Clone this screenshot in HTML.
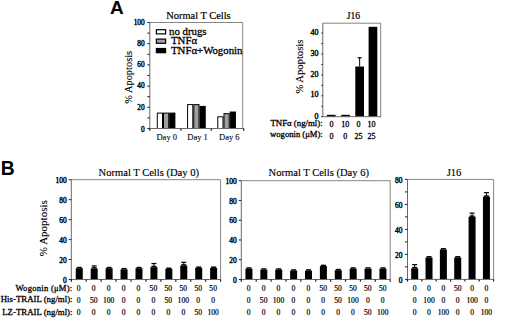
<!DOCTYPE html>
<html><head><meta charset="utf-8"><style>
html,body{margin:0;padding:0;background:#fff;width:520px;height:319px;overflow:hidden}
svg{display:block}
</style></head><body>
<svg width="520" height="319" viewBox="0 0 520 319">
<rect width="520" height="319" fill="#fff"/>
<g font-family='"Liberation Serif", serif'>
<text x="110.1" y="14.3" font-size="19" font-weight="bold" font-family='"Liberation Sans", sans-serif'>A</text>
<text x="0.7" y="174.6" font-size="19.3" font-weight="bold" font-family='"Liberation Sans", sans-serif'>B</text>
<text x="198.50" y="18.80" font-size="10.4" text-anchor="middle" stroke="#000" stroke-width="0.2">Normal T Cells</text>
<rect x="157.30" y="113.10" width="5.20" height="15.40" fill="#fff" stroke="#000" stroke-width="1"/>
<rect x="163.50" y="113.10" width="5.20" height="15.40" fill="#a0a0a0" stroke="#000" stroke-width="1"/>
<rect x="169.70" y="113.10" width="5.20" height="15.40" fill="#000" stroke="#000" stroke-width="1"/>
<rect x="187.60" y="104.62" width="5.20" height="23.88" fill="#fff" stroke="#000" stroke-width="1"/>
<rect x="193.80" y="104.62" width="5.20" height="23.88" fill="#a0a0a0" stroke="#000" stroke-width="1"/>
<rect x="200.00" y="106.42" width="5.20" height="22.08" fill="#000" stroke="#000" stroke-width="1"/>
<rect x="217.80" y="116.81" width="5.20" height="11.69" fill="#fff" stroke="#000" stroke-width="1"/>
<rect x="224.00" y="113.63" width="5.20" height="14.87" fill="#a0a0a0" stroke="#000" stroke-width="1"/>
<rect x="230.20" y="112.04" width="5.20" height="16.46" fill="#000" stroke="#000" stroke-width="1"/>
<line x1="149.80" y1="22.50" x2="149.80" y2="128.50" stroke="#6a6a6a" stroke-width="1"/>
<line x1="149.80" y1="22.50" x2="242.70" y2="22.50" stroke="#858585" stroke-width="1"/>
<line x1="242.70" y1="22.50" x2="242.70" y2="128.50" stroke="#858585" stroke-width="1"/>
<line x1="149.30" y1="128.50" x2="244.10" y2="128.50" stroke="#6a6a6a" stroke-width="1"/>
<line x1="149.80" y1="128.50" x2="149.80" y2="130.70" stroke="#222" stroke-width="1.3"/>
<line x1="243.60" y1="128.50" x2="243.60" y2="130.70" stroke="#222" stroke-width="1.2"/>
<line x1="147.30" y1="128.50" x2="149.80" y2="128.50" stroke="#222" stroke-width="1"/>
<text x="144.60" y="132.00" font-size="7.3" text-anchor="end" stroke="#000" stroke-width="0.4">0</text>
<line x1="147.30" y1="107.30" x2="149.80" y2="107.30" stroke="#222" stroke-width="1"/>
<text x="144.60" y="109.50" font-size="7.3" text-anchor="end" stroke="#000" stroke-width="0.4">20</text>
<line x1="147.30" y1="86.10" x2="149.80" y2="86.10" stroke="#222" stroke-width="1"/>
<text x="144.60" y="88.30" font-size="7.3" text-anchor="end" stroke="#000" stroke-width="0.4">40</text>
<line x1="147.30" y1="64.90" x2="149.80" y2="64.90" stroke="#222" stroke-width="1"/>
<text x="144.60" y="67.10" font-size="7.3" text-anchor="end" stroke="#000" stroke-width="0.4">60</text>
<line x1="147.30" y1="43.70" x2="149.80" y2="43.70" stroke="#222" stroke-width="1"/>
<text x="144.60" y="45.90" font-size="7.3" text-anchor="end" stroke="#000" stroke-width="0.4">80</text>
<line x1="147.30" y1="22.50" x2="149.80" y2="22.50" stroke="#222" stroke-width="1"/>
<text x="144.60" y="24.70" font-size="7.3" text-anchor="end" stroke="#000" stroke-width="0.4">100</text>
<line x1="147.30" y1="117.90" x2="149.80" y2="117.90" stroke="#222" stroke-width="1"/>
<line x1="147.30" y1="96.70" x2="149.80" y2="96.70" stroke="#222" stroke-width="1"/>
<line x1="147.30" y1="75.50" x2="149.80" y2="75.50" stroke="#222" stroke-width="1"/>
<line x1="147.30" y1="54.30" x2="149.80" y2="54.30" stroke="#222" stroke-width="1"/>
<line x1="147.30" y1="33.10" x2="149.80" y2="33.10" stroke="#222" stroke-width="1"/>
<line x1="180.90" y1="128.50" x2="180.90" y2="130.70" stroke="#222" stroke-width="1.2"/>
<line x1="211.30" y1="128.50" x2="211.30" y2="130.70" stroke="#222" stroke-width="1.2"/>
<text x="166.75" y="140.30" font-size="8.5" text-anchor="middle" stroke="#000" stroke-width="0.1">Day 0</text>
<text x="197.60" y="140.30" font-size="8.5" text-anchor="middle" stroke="#000" stroke-width="0.1">Day 1</text>
<text x="229.30" y="140.30" font-size="8.5" text-anchor="middle" stroke="#000" stroke-width="0.1">Day 6</text>
<text transform="translate(131.50,77.30) rotate(-90)" font-size="10.4" text-anchor="middle" stroke="#000" stroke-width="0.12">% Apoptosis</text>
<rect x="156.40" y="29.70" width="9.20" height="4.20" fill="#fff" stroke="#000" stroke-width="1.2"/>
<text x="169.00" y="34.50" font-size="10.8" text-anchor="start" stroke="#000" stroke-width="0.3">no drugs</text>
<rect x="156.40" y="39.10" width="9.20" height="4.20" fill="#a0a0a0" stroke="#000" stroke-width="1.2"/>
<text x="171.00" y="44.20" font-size="10.8" text-anchor="start" stroke="#000" stroke-width="0.3">TNFα</text>
<rect x="156.40" y="48.50" width="9.20" height="4.20" fill="#000" stroke="#000" stroke-width="1.2"/>
<text x="171.00" y="53.90" font-size="10.8" text-anchor="start" stroke="#000" stroke-width="0.3">TNFα+Wogonin</text>
<text x="353.50" y="18.80" font-size="9.6" text-anchor="middle" stroke="#000" stroke-width="0.2">J16</text>
<rect x="326.90" y="114.82" width="8.70" height="1.88" fill="#000"/>
<rect x="341.20" y="114.82" width="8.70" height="1.88" fill="#000"/>
<rect x="355.30" y="66.54" width="8.70" height="50.16" fill="#000"/>
<line x1="359.65" y1="57.76" x2="359.65" y2="66.54" stroke="#000" stroke-width="1"/>
<line x1="357.65" y1="57.76" x2="361.65" y2="57.76" stroke="#000" stroke-width="1.2"/>
<rect x="368.60" y="26.83" width="8.70" height="89.87" fill="#000"/>
<line x1="322.80" y1="23.20" x2="322.80" y2="116.70" stroke="#6a6a6a" stroke-width="1"/>
<line x1="322.80" y1="23.20" x2="380.70" y2="23.20" stroke="#858585" stroke-width="1"/>
<line x1="380.70" y1="23.20" x2="380.70" y2="116.70" stroke="#858585" stroke-width="1"/>
<line x1="322.30" y1="116.70" x2="381.20" y2="116.70" stroke="#6a6a6a" stroke-width="1"/>
<line x1="321.30" y1="116.70" x2="322.80" y2="116.70" stroke="#222" stroke-width="1"/>
<text x="318.50" y="118.90" font-size="8" text-anchor="end" stroke="#000" stroke-width="0.4">0</text>
<line x1="321.30" y1="95.80" x2="322.80" y2="95.80" stroke="#222" stroke-width="1"/>
<text x="318.50" y="97.40" font-size="8" text-anchor="end" stroke="#000" stroke-width="0.4">10</text>
<line x1="321.30" y1="74.90" x2="322.80" y2="74.90" stroke="#222" stroke-width="1"/>
<text x="318.50" y="76.50" font-size="8" text-anchor="end" stroke="#000" stroke-width="0.4">20</text>
<line x1="321.30" y1="54.00" x2="322.80" y2="54.00" stroke="#222" stroke-width="1"/>
<text x="318.50" y="55.60" font-size="8" text-anchor="end" stroke="#000" stroke-width="0.4">30</text>
<line x1="321.30" y1="33.10" x2="322.80" y2="33.10" stroke="#222" stroke-width="1"/>
<text x="318.50" y="34.70" font-size="8" text-anchor="end" stroke="#000" stroke-width="0.4">40</text>
<line x1="321.30" y1="106.25" x2="322.80" y2="106.25" stroke="#222" stroke-width="1"/>
<line x1="321.30" y1="85.35" x2="322.80" y2="85.35" stroke="#222" stroke-width="1"/>
<line x1="321.30" y1="64.45" x2="322.80" y2="64.45" stroke="#222" stroke-width="1"/>
<line x1="321.30" y1="43.55" x2="322.80" y2="43.55" stroke="#222" stroke-width="1"/>
<text x="322.70" y="125.80" font-size="8.8" text-anchor="end" stroke="#000" stroke-width="0.3">TNFα (ng/ml):</text>
<text x="322.70" y="136.60" font-size="8.6" text-anchor="end" stroke="#000" stroke-width="0.3">wogonin (μM):</text>
<text x="331.50" y="127.30" font-size="8" text-anchor="middle" stroke="#000" stroke-width="0.3">0</text>
<text x="331.50" y="139.00" font-size="8" text-anchor="middle" stroke="#000" stroke-width="0.3">0</text>
<text x="345.30" y="127.30" font-size="8" text-anchor="middle" stroke="#000" stroke-width="0.3">10</text>
<text x="345.30" y="139.00" font-size="8" text-anchor="middle" stroke="#000" stroke-width="0.3">0</text>
<text x="358.50" y="127.30" font-size="8" text-anchor="middle" stroke="#000" stroke-width="0.3">0</text>
<text x="358.50" y="139.00" font-size="8" text-anchor="middle" stroke="#000" stroke-width="0.3">25</text>
<text x="371.50" y="127.30" font-size="8" text-anchor="middle" stroke="#000" stroke-width="0.3">10</text>
<text x="371.50" y="139.00" font-size="8" text-anchor="middle" stroke="#000" stroke-width="0.3">25</text>
<text x="148.80" y="176.00" font-size="10.55" text-anchor="middle" stroke="#000" stroke-width="0.15">Normal T Cells (Day 0)</text>
<rect x="75.77" y="268.22" width="7.00" height="11.28" fill="#000"/>
<rect x="76.77" y="266.82" width="5.00" height="1.50" fill="#000"/>
<rect x="90.69" y="268.52" width="7.00" height="10.98" fill="#000"/>
<rect x="91.69" y="267.12" width="5.00" height="1.50" fill="#000"/>
<line x1="94.19" y1="265.93" x2="94.19" y2="267.72" stroke="#000" stroke-width="1"/>
<line x1="91.69" y1="265.93" x2="96.69" y2="265.93" stroke="#000" stroke-width="1.2"/>
<rect x="105.62" y="268.22" width="7.00" height="11.28" fill="#000"/>
<rect x="106.62" y="266.82" width="5.00" height="1.50" fill="#000"/>
<rect x="120.56" y="269.32" width="7.00" height="10.18" fill="#000"/>
<rect x="121.56" y="267.92" width="5.00" height="1.50" fill="#000"/>
<rect x="135.49" y="268.22" width="7.00" height="11.28" fill="#000"/>
<rect x="136.49" y="266.82" width="5.00" height="1.50" fill="#000"/>
<rect x="150.42" y="267.13" width="7.00" height="12.37" fill="#000"/>
<rect x="151.42" y="265.73" width="5.00" height="1.50" fill="#000"/>
<line x1="153.92" y1="263.53" x2="153.92" y2="266.33" stroke="#000" stroke-width="1"/>
<line x1="151.42" y1="263.53" x2="156.42" y2="263.53" stroke="#000" stroke-width="1.2"/>
<rect x="165.35" y="268.92" width="7.00" height="10.58" fill="#000"/>
<rect x="166.35" y="267.52" width="5.00" height="1.50" fill="#000"/>
<rect x="180.28" y="265.53" width="7.00" height="13.97" fill="#000"/>
<rect x="181.28" y="264.13" width="5.00" height="1.50" fill="#000"/>
<line x1="183.78" y1="262.33" x2="183.78" y2="264.73" stroke="#000" stroke-width="1"/>
<line x1="181.28" y1="262.33" x2="186.28" y2="262.33" stroke="#000" stroke-width="1.2"/>
<rect x="195.21" y="267.82" width="7.00" height="11.68" fill="#000"/>
<rect x="196.21" y="266.42" width="5.00" height="1.50" fill="#000"/>
<rect x="210.13" y="267.82" width="7.00" height="11.68" fill="#000"/>
<rect x="211.13" y="266.42" width="5.00" height="1.50" fill="#000"/>
<line x1="71.30" y1="179.70" x2="71.30" y2="279.50" stroke="#6a6a6a" stroke-width="1"/>
<line x1="71.30" y1="179.70" x2="220.60" y2="179.70" stroke="#858585" stroke-width="1"/>
<line x1="220.60" y1="179.70" x2="220.60" y2="279.50" stroke="#858585" stroke-width="1"/>
<line x1="70.80" y1="279.50" x2="221.10" y2="279.50" stroke="#6a6a6a" stroke-width="1"/>
<line x1="71.30" y1="279.50" x2="71.30" y2="281.70" stroke="#222" stroke-width="1.3"/>
<line x1="68.80" y1="279.50" x2="71.30" y2="279.50" stroke="#222" stroke-width="1"/>
<text x="66.80" y="283.20" font-size="7.5" text-anchor="end" stroke="#000" stroke-width="0.4">0</text>
<line x1="68.80" y1="259.54" x2="71.30" y2="259.54" stroke="#222" stroke-width="1"/>
<text x="66.80" y="262.64" font-size="7.5" text-anchor="end" stroke="#000" stroke-width="0.4">20</text>
<line x1="68.80" y1="239.58" x2="71.30" y2="239.58" stroke="#222" stroke-width="1"/>
<text x="66.80" y="242.68" font-size="7.5" text-anchor="end" stroke="#000" stroke-width="0.4">40</text>
<line x1="68.80" y1="219.62" x2="71.30" y2="219.62" stroke="#222" stroke-width="1"/>
<text x="66.80" y="222.72" font-size="7.5" text-anchor="end" stroke="#000" stroke-width="0.4">60</text>
<line x1="68.80" y1="199.66" x2="71.30" y2="199.66" stroke="#222" stroke-width="1"/>
<text x="66.80" y="202.76" font-size="7.5" text-anchor="end" stroke="#000" stroke-width="0.4">80</text>
<line x1="68.80" y1="179.70" x2="71.30" y2="179.70" stroke="#222" stroke-width="1"/>
<text x="66.80" y="182.80" font-size="7.5" text-anchor="end" stroke="#000" stroke-width="0.4">100</text>
<line x1="86.23" y1="279.50" x2="86.23" y2="281.70" stroke="#222" stroke-width="1.2"/>
<line x1="101.16" y1="279.50" x2="101.16" y2="281.70" stroke="#222" stroke-width="1.2"/>
<line x1="116.09" y1="279.50" x2="116.09" y2="281.70" stroke="#222" stroke-width="1.2"/>
<line x1="131.02" y1="279.50" x2="131.02" y2="281.70" stroke="#222" stroke-width="1.2"/>
<line x1="145.95" y1="279.50" x2="145.95" y2="281.70" stroke="#222" stroke-width="1.2"/>
<line x1="160.88" y1="279.50" x2="160.88" y2="281.70" stroke="#222" stroke-width="1.2"/>
<line x1="175.81" y1="279.50" x2="175.81" y2="281.70" stroke="#222" stroke-width="1.2"/>
<line x1="190.74" y1="279.50" x2="190.74" y2="281.70" stroke="#222" stroke-width="1.2"/>
<line x1="205.67" y1="279.50" x2="205.67" y2="281.70" stroke="#222" stroke-width="1.2"/>
<line x1="220.60" y1="279.50" x2="220.60" y2="281.70" stroke="#222" stroke-width="1.2"/>
<text x="78.77" y="290.50" font-size="7.6" text-anchor="middle" stroke="#000" stroke-width="0.2">0</text>
<text x="93.69" y="290.50" font-size="7.6" text-anchor="middle" stroke="#000" stroke-width="0.2">0</text>
<text x="108.62" y="290.50" font-size="7.6" text-anchor="middle" stroke="#000" stroke-width="0.2">0</text>
<text x="123.56" y="290.50" font-size="7.6" text-anchor="middle" stroke="#000" stroke-width="0.2">0</text>
<text x="138.49" y="290.50" font-size="7.6" text-anchor="middle" stroke="#000" stroke-width="0.2">0</text>
<text x="153.42" y="290.50" font-size="7.6" text-anchor="middle" stroke="#000" stroke-width="0.2">50</text>
<text x="168.35" y="290.50" font-size="7.6" text-anchor="middle" stroke="#000" stroke-width="0.2">50</text>
<text x="183.28" y="290.50" font-size="7.6" text-anchor="middle" stroke="#000" stroke-width="0.2">50</text>
<text x="198.21" y="290.50" font-size="7.6" text-anchor="middle" stroke="#000" stroke-width="0.2">50</text>
<text x="213.13" y="290.50" font-size="7.6" text-anchor="middle" stroke="#000" stroke-width="0.2">50</text>
<text x="78.77" y="302.70" font-size="7.6" text-anchor="middle" stroke="#000" stroke-width="0.2">0</text>
<text x="93.69" y="302.70" font-size="7.6" text-anchor="middle" stroke="#000" stroke-width="0.2">50</text>
<text x="108.62" y="302.70" font-size="7.6" text-anchor="middle" stroke="#000" stroke-width="0.2">100</text>
<text x="123.56" y="302.70" font-size="7.6" text-anchor="middle" stroke="#000" stroke-width="0.2">0</text>
<text x="138.49" y="302.70" font-size="7.6" text-anchor="middle" stroke="#000" stroke-width="0.2">0</text>
<text x="153.42" y="302.70" font-size="7.6" text-anchor="middle" stroke="#000" stroke-width="0.2">0</text>
<text x="168.35" y="302.70" font-size="7.6" text-anchor="middle" stroke="#000" stroke-width="0.2">50</text>
<text x="183.28" y="302.70" font-size="7.6" text-anchor="middle" stroke="#000" stroke-width="0.2">100</text>
<text x="198.21" y="302.70" font-size="7.6" text-anchor="middle" stroke="#000" stroke-width="0.2">0</text>
<text x="213.13" y="302.70" font-size="7.6" text-anchor="middle" stroke="#000" stroke-width="0.2">0</text>
<text x="78.77" y="315.30" font-size="7.6" text-anchor="middle" stroke="#000" stroke-width="0.2">0</text>
<text x="93.69" y="315.30" font-size="7.6" text-anchor="middle" stroke="#000" stroke-width="0.2">0</text>
<text x="108.62" y="315.30" font-size="7.6" text-anchor="middle" stroke="#000" stroke-width="0.2">0</text>
<text x="123.56" y="315.30" font-size="7.6" text-anchor="middle" stroke="#000" stroke-width="0.2">0</text>
<text x="138.49" y="315.30" font-size="7.6" text-anchor="middle" stroke="#000" stroke-width="0.2">0</text>
<text x="153.42" y="315.30" font-size="7.6" text-anchor="middle" stroke="#000" stroke-width="0.2">0</text>
<text x="168.35" y="315.30" font-size="7.6" text-anchor="middle" stroke="#000" stroke-width="0.2">0</text>
<text x="183.28" y="315.30" font-size="7.6" text-anchor="middle" stroke="#000" stroke-width="0.2">0</text>
<text x="198.21" y="315.30" font-size="7.6" text-anchor="middle" stroke="#000" stroke-width="0.2">50</text>
<text x="213.13" y="315.30" font-size="7.6" text-anchor="middle" stroke="#000" stroke-width="0.2">100</text>
<text x="318.80" y="176.00" font-size="10.55" text-anchor="middle" stroke="#000" stroke-width="0.15">Normal T Cells (Day 6)</text>
<rect x="245.44" y="268.64" width="7.00" height="10.86" fill="#000"/>
<rect x="246.44" y="267.24" width="5.00" height="1.50" fill="#000"/>
<rect x="260.33" y="269.63" width="7.00" height="9.87" fill="#000"/>
<rect x="261.33" y="268.23" width="5.00" height="1.50" fill="#000"/>
<rect x="275.22" y="269.63" width="7.00" height="9.87" fill="#000"/>
<rect x="276.22" y="268.23" width="5.00" height="1.50" fill="#000"/>
<rect x="290.12" y="270.62" width="7.00" height="8.88" fill="#000"/>
<rect x="291.12" y="269.22" width="5.00" height="1.50" fill="#000"/>
<rect x="305.00" y="270.62" width="7.00" height="8.88" fill="#000"/>
<rect x="306.00" y="269.22" width="5.00" height="1.50" fill="#000"/>
<rect x="319.89" y="266.07" width="7.00" height="13.43" fill="#000"/>
<rect x="320.89" y="264.67" width="5.00" height="1.50" fill="#000"/>
<rect x="334.78" y="270.22" width="7.00" height="9.28" fill="#000"/>
<rect x="335.78" y="268.82" width="5.00" height="1.50" fill="#000"/>
<rect x="349.68" y="268.64" width="7.00" height="10.86" fill="#000"/>
<rect x="350.68" y="267.24" width="5.00" height="1.50" fill="#000"/>
<rect x="364.56" y="268.64" width="7.00" height="10.86" fill="#000"/>
<rect x="365.56" y="267.24" width="5.00" height="1.50" fill="#000"/>
<rect x="379.45" y="268.64" width="7.00" height="10.86" fill="#000"/>
<rect x="380.45" y="267.24" width="5.00" height="1.50" fill="#000"/>
<line x1="241.30" y1="180.70" x2="241.30" y2="279.50" stroke="#6a6a6a" stroke-width="1"/>
<line x1="241.30" y1="180.70" x2="390.20" y2="180.70" stroke="#858585" stroke-width="1"/>
<line x1="390.20" y1="180.70" x2="390.20" y2="279.50" stroke="#858585" stroke-width="1"/>
<line x1="240.80" y1="279.50" x2="390.70" y2="279.50" stroke="#6a6a6a" stroke-width="1"/>
<line x1="241.30" y1="279.50" x2="241.30" y2="281.70" stroke="#222" stroke-width="1.3"/>
<line x1="238.80" y1="279.50" x2="241.30" y2="279.50" stroke="#222" stroke-width="1"/>
<text x="236.80" y="283.20" font-size="7.5" text-anchor="end" stroke="#000" stroke-width="0.4">0</text>
<line x1="238.80" y1="259.74" x2="241.30" y2="259.74" stroke="#222" stroke-width="1"/>
<text x="236.80" y="262.84" font-size="7.5" text-anchor="end" stroke="#000" stroke-width="0.4">20</text>
<line x1="238.80" y1="239.98" x2="241.30" y2="239.98" stroke="#222" stroke-width="1"/>
<text x="236.80" y="243.08" font-size="7.5" text-anchor="end" stroke="#000" stroke-width="0.4">40</text>
<line x1="238.80" y1="220.22" x2="241.30" y2="220.22" stroke="#222" stroke-width="1"/>
<text x="236.80" y="223.32" font-size="7.5" text-anchor="end" stroke="#000" stroke-width="0.4">60</text>
<line x1="238.80" y1="200.46" x2="241.30" y2="200.46" stroke="#222" stroke-width="1"/>
<text x="236.80" y="203.56" font-size="7.5" text-anchor="end" stroke="#000" stroke-width="0.4">80</text>
<line x1="238.80" y1="180.70" x2="241.30" y2="180.70" stroke="#222" stroke-width="1"/>
<text x="236.80" y="183.80" font-size="7.5" text-anchor="end" stroke="#000" stroke-width="0.4">100</text>
<line x1="256.19" y1="279.50" x2="256.19" y2="281.70" stroke="#222" stroke-width="1.2"/>
<line x1="271.08" y1="279.50" x2="271.08" y2="281.70" stroke="#222" stroke-width="1.2"/>
<line x1="285.97" y1="279.50" x2="285.97" y2="281.70" stroke="#222" stroke-width="1.2"/>
<line x1="300.86" y1="279.50" x2="300.86" y2="281.70" stroke="#222" stroke-width="1.2"/>
<line x1="315.75" y1="279.50" x2="315.75" y2="281.70" stroke="#222" stroke-width="1.2"/>
<line x1="330.64" y1="279.50" x2="330.64" y2="281.70" stroke="#222" stroke-width="1.2"/>
<line x1="345.53" y1="279.50" x2="345.53" y2="281.70" stroke="#222" stroke-width="1.2"/>
<line x1="360.42" y1="279.50" x2="360.42" y2="281.70" stroke="#222" stroke-width="1.2"/>
<line x1="375.31" y1="279.50" x2="375.31" y2="281.70" stroke="#222" stroke-width="1.2"/>
<line x1="390.20" y1="279.50" x2="390.20" y2="281.70" stroke="#222" stroke-width="1.2"/>
<text x="248.75" y="290.50" font-size="7.6" text-anchor="middle" stroke="#000" stroke-width="0.2">0</text>
<text x="263.63" y="290.50" font-size="7.6" text-anchor="middle" stroke="#000" stroke-width="0.2">0</text>
<text x="278.52" y="290.50" font-size="7.6" text-anchor="middle" stroke="#000" stroke-width="0.2">0</text>
<text x="293.42" y="290.50" font-size="7.6" text-anchor="middle" stroke="#000" stroke-width="0.2">0</text>
<text x="308.31" y="290.50" font-size="7.6" text-anchor="middle" stroke="#000" stroke-width="0.2">0</text>
<text x="323.19" y="290.50" font-size="7.6" text-anchor="middle" stroke="#000" stroke-width="0.2">50</text>
<text x="338.08" y="290.50" font-size="7.6" text-anchor="middle" stroke="#000" stroke-width="0.2">50</text>
<text x="352.98" y="290.50" font-size="7.6" text-anchor="middle" stroke="#000" stroke-width="0.2">50</text>
<text x="367.87" y="290.50" font-size="7.6" text-anchor="middle" stroke="#000" stroke-width="0.2">50</text>
<text x="382.75" y="290.50" font-size="7.6" text-anchor="middle" stroke="#000" stroke-width="0.2">50</text>
<text x="248.75" y="302.70" font-size="7.6" text-anchor="middle" stroke="#000" stroke-width="0.2">0</text>
<text x="263.63" y="302.70" font-size="7.6" text-anchor="middle" stroke="#000" stroke-width="0.2">50</text>
<text x="278.52" y="302.70" font-size="7.6" text-anchor="middle" stroke="#000" stroke-width="0.2">100</text>
<text x="293.42" y="302.70" font-size="7.6" text-anchor="middle" stroke="#000" stroke-width="0.2">0</text>
<text x="308.31" y="302.70" font-size="7.6" text-anchor="middle" stroke="#000" stroke-width="0.2">0</text>
<text x="323.19" y="302.70" font-size="7.6" text-anchor="middle" stroke="#000" stroke-width="0.2">0</text>
<text x="338.08" y="302.70" font-size="7.6" text-anchor="middle" stroke="#000" stroke-width="0.2">50</text>
<text x="352.98" y="302.70" font-size="7.6" text-anchor="middle" stroke="#000" stroke-width="0.2">100</text>
<text x="367.87" y="302.70" font-size="7.6" text-anchor="middle" stroke="#000" stroke-width="0.2">0</text>
<text x="382.75" y="302.70" font-size="7.6" text-anchor="middle" stroke="#000" stroke-width="0.2">0</text>
<text x="248.75" y="315.30" font-size="7.6" text-anchor="middle" stroke="#000" stroke-width="0.2">0</text>
<text x="263.63" y="315.30" font-size="7.6" text-anchor="middle" stroke="#000" stroke-width="0.2">0</text>
<text x="278.52" y="315.30" font-size="7.6" text-anchor="middle" stroke="#000" stroke-width="0.2">0</text>
<text x="293.42" y="315.30" font-size="7.6" text-anchor="middle" stroke="#000" stroke-width="0.2">0</text>
<text x="308.31" y="315.30" font-size="7.6" text-anchor="middle" stroke="#000" stroke-width="0.2">0</text>
<text x="323.19" y="315.30" font-size="7.6" text-anchor="middle" stroke="#000" stroke-width="0.2">0</text>
<text x="338.08" y="315.30" font-size="7.6" text-anchor="middle" stroke="#000" stroke-width="0.2">0</text>
<text x="352.98" y="315.30" font-size="7.6" text-anchor="middle" stroke="#000" stroke-width="0.2">0</text>
<text x="367.87" y="315.30" font-size="7.6" text-anchor="middle" stroke="#000" stroke-width="0.2">50</text>
<text x="382.75" y="315.30" font-size="7.6" text-anchor="middle" stroke="#000" stroke-width="0.2">100</text>
<text x="454.00" y="176.00" font-size="10.55" text-anchor="middle" stroke="#000" stroke-width="0.15">J16</text>
<rect x="411.18" y="268.32" width="7.00" height="11.07" fill="#000"/>
<rect x="412.18" y="266.92" width="5.00" height="1.50" fill="#000"/>
<line x1="414.68" y1="264.65" x2="414.68" y2="267.52" stroke="#000" stroke-width="1"/>
<line x1="412.18" y1="264.65" x2="417.18" y2="264.65" stroke="#000" stroke-width="1.2"/>
<rect x="425.52" y="257.45" width="7.00" height="21.95" fill="#000"/>
<rect x="426.52" y="256.05" width="5.00" height="1.50" fill="#000"/>
<rect x="439.88" y="249.45" width="7.00" height="29.95" fill="#000"/>
<rect x="440.88" y="248.05" width="5.00" height="1.50" fill="#000"/>
<rect x="454.23" y="257.45" width="7.00" height="21.95" fill="#000"/>
<rect x="455.23" y="256.05" width="5.00" height="1.50" fill="#000"/>
<rect x="468.58" y="216.83" width="7.00" height="62.57" fill="#000"/>
<rect x="469.58" y="215.43" width="5.00" height="1.50" fill="#000"/>
<line x1="472.08" y1="213.15" x2="472.08" y2="216.03" stroke="#000" stroke-width="1"/>
<line x1="469.58" y1="213.15" x2="474.58" y2="213.15" stroke="#000" stroke-width="1.2"/>
<rect x="482.93" y="196.70" width="7.00" height="82.70" fill="#000"/>
<rect x="483.93" y="195.30" width="5.00" height="1.50" fill="#000"/>
<line x1="486.43" y1="192.65" x2="486.43" y2="195.90" stroke="#000" stroke-width="1"/>
<line x1="483.93" y1="192.65" x2="488.93" y2="192.65" stroke="#000" stroke-width="1.2"/>
<line x1="407.50" y1="179.40" x2="407.50" y2="279.40" stroke="#6a6a6a" stroke-width="1"/>
<line x1="407.50" y1="179.40" x2="493.60" y2="179.40" stroke="#858585" stroke-width="1"/>
<line x1="493.60" y1="179.40" x2="493.60" y2="279.40" stroke="#858585" stroke-width="1"/>
<line x1="407.00" y1="279.40" x2="494.10" y2="279.40" stroke="#6a6a6a" stroke-width="1"/>
<line x1="407.50" y1="279.40" x2="407.50" y2="281.60" stroke="#222" stroke-width="1.3"/>
<line x1="405.00" y1="279.40" x2="407.50" y2="279.40" stroke="#222" stroke-width="1"/>
<text x="402.50" y="283.10" font-size="7.5" text-anchor="end" stroke="#000" stroke-width="0.4">0</text>
<line x1="405.00" y1="254.40" x2="407.50" y2="254.40" stroke="#222" stroke-width="1"/>
<text x="402.50" y="257.50" font-size="7.5" text-anchor="end" stroke="#000" stroke-width="0.4">20</text>
<line x1="405.00" y1="229.40" x2="407.50" y2="229.40" stroke="#222" stroke-width="1"/>
<text x="402.50" y="232.50" font-size="7.5" text-anchor="end" stroke="#000" stroke-width="0.4">40</text>
<line x1="405.00" y1="204.40" x2="407.50" y2="204.40" stroke="#222" stroke-width="1"/>
<text x="402.50" y="207.50" font-size="7.5" text-anchor="end" stroke="#000" stroke-width="0.4">60</text>
<line x1="405.00" y1="179.40" x2="407.50" y2="179.40" stroke="#222" stroke-width="1"/>
<text x="402.50" y="182.50" font-size="7.5" text-anchor="end" stroke="#000" stroke-width="0.4">80</text>
<line x1="405.00" y1="266.90" x2="407.50" y2="266.90" stroke="#222" stroke-width="1"/>
<line x1="405.00" y1="241.90" x2="407.50" y2="241.90" stroke="#222" stroke-width="1"/>
<line x1="405.00" y1="216.90" x2="407.50" y2="216.90" stroke="#222" stroke-width="1"/>
<line x1="405.00" y1="191.90" x2="407.50" y2="191.90" stroke="#222" stroke-width="1"/>
<line x1="421.85" y1="279.40" x2="421.85" y2="281.60" stroke="#222" stroke-width="1.2"/>
<line x1="436.20" y1="279.40" x2="436.20" y2="281.60" stroke="#222" stroke-width="1.2"/>
<line x1="450.55" y1="279.40" x2="450.55" y2="281.60" stroke="#222" stroke-width="1.2"/>
<line x1="464.90" y1="279.40" x2="464.90" y2="281.60" stroke="#222" stroke-width="1.2"/>
<line x1="479.25" y1="279.40" x2="479.25" y2="281.60" stroke="#222" stroke-width="1.2"/>
<line x1="493.60" y1="279.40" x2="493.60" y2="281.60" stroke="#222" stroke-width="1.2"/>
<text x="414.68" y="290.50" font-size="7.6" text-anchor="middle" stroke="#000" stroke-width="0.2">0</text>
<text x="429.02" y="290.50" font-size="7.6" text-anchor="middle" stroke="#000" stroke-width="0.2">0</text>
<text x="443.38" y="290.50" font-size="7.6" text-anchor="middle" stroke="#000" stroke-width="0.2">0</text>
<text x="457.73" y="290.50" font-size="7.6" text-anchor="middle" stroke="#000" stroke-width="0.2">50</text>
<text x="472.08" y="290.50" font-size="7.6" text-anchor="middle" stroke="#000" stroke-width="0.2">0</text>
<text x="486.43" y="290.50" font-size="7.6" text-anchor="middle" stroke="#000" stroke-width="0.2">0</text>
<text x="414.68" y="302.70" font-size="7.6" text-anchor="middle" stroke="#000" stroke-width="0.2">0</text>
<text x="429.02" y="302.70" font-size="7.6" text-anchor="middle" stroke="#000" stroke-width="0.2">100</text>
<text x="443.38" y="302.70" font-size="7.6" text-anchor="middle" stroke="#000" stroke-width="0.2">0</text>
<text x="457.73" y="302.70" font-size="7.6" text-anchor="middle" stroke="#000" stroke-width="0.2">0</text>
<text x="472.08" y="302.70" font-size="7.6" text-anchor="middle" stroke="#000" stroke-width="0.2">100</text>
<text x="486.43" y="302.70" font-size="7.6" text-anchor="middle" stroke="#000" stroke-width="0.2">0</text>
<text x="414.68" y="315.30" font-size="7.6" text-anchor="middle" stroke="#000" stroke-width="0.2">0</text>
<text x="429.02" y="315.30" font-size="7.6" text-anchor="middle" stroke="#000" stroke-width="0.2">0</text>
<text x="443.38" y="315.30" font-size="7.6" text-anchor="middle" stroke="#000" stroke-width="0.2">100</text>
<text x="457.73" y="315.30" font-size="7.6" text-anchor="middle" stroke="#000" stroke-width="0.2">0</text>
<text x="472.08" y="315.30" font-size="7.6" text-anchor="middle" stroke="#000" stroke-width="0.2">0</text>
<text x="486.43" y="315.30" font-size="7.6" text-anchor="middle" stroke="#000" stroke-width="0.2">100</text>
<text x="72.50" y="290.50" font-size="8.6" text-anchor="end" stroke="#000" stroke-width="0.3" letter-spacing="0.25">Wogonin (μM):</text>
<text x="72.50" y="302.40" font-size="8.8" text-anchor="end" stroke="#000" stroke-width="0.3">His-TRAIL (ng/ml):</text>
<text x="72.50" y="315.10" font-size="8.8" text-anchor="end" stroke="#000" stroke-width="0.3">LZ-TRAIL (ng/ml):</text>
<text transform="translate(47.30,228.20) rotate(-90)" font-size="11.0" text-anchor="middle" stroke="#000" stroke-width="0.12">% Apoptosis</text>
<text transform="translate(303.40,66.60) rotate(-90)" font-size="10.6" text-anchor="middle" stroke="#000" stroke-width="0.12">% Apoptosis</text>
</g>
</svg>
</body></html>
